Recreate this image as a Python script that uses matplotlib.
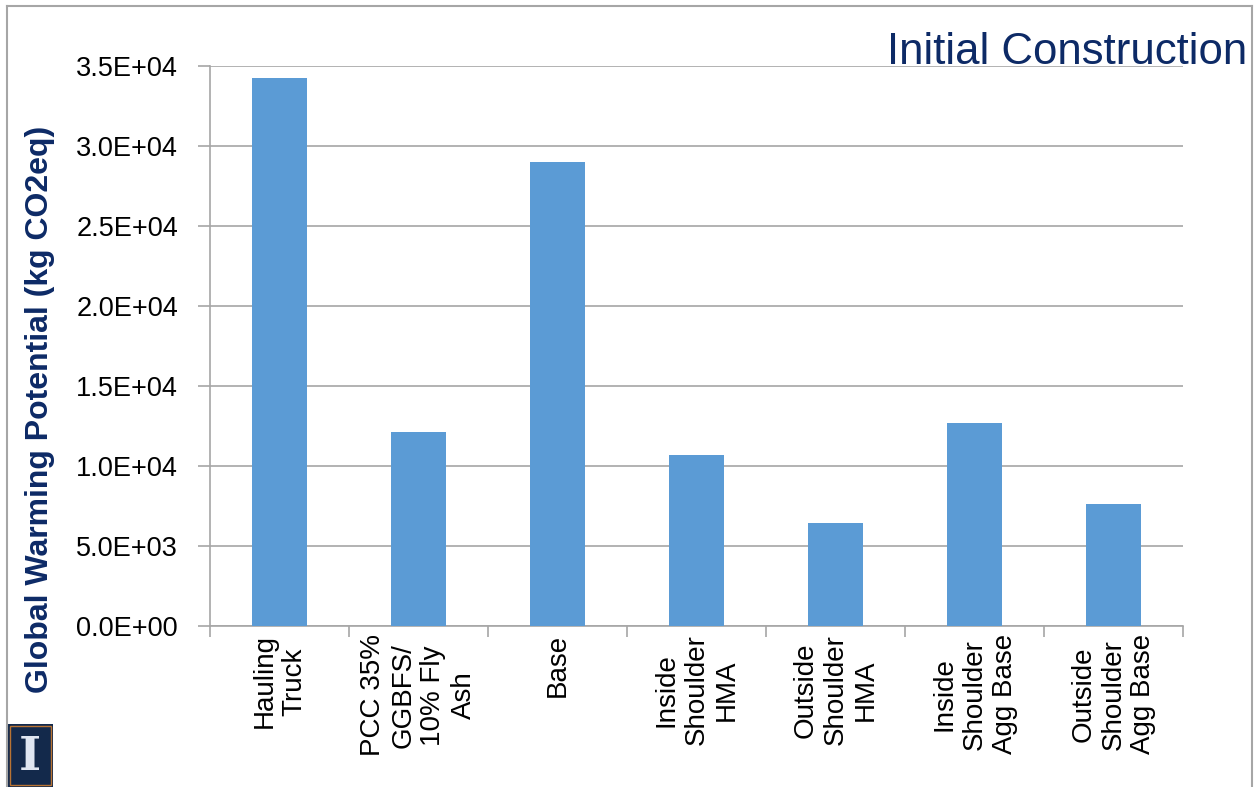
import matplotlib.pyplot as plt
from matplotlib.patches import Rectangle
from matplotlib.lines import Line2D
import numpy as np

categories = [
    "Hauling\nTruck",
    "PCC 35%\nGGBFS/\n10% Fly\nAsh",
    "Base",
    "Inside\nShoulder\nHMA",
    "Outside\nShoulder\nHMA",
    "Inside\nShoulder\nAgg Base",
    "Outside\nShoulder\nAgg Base",
]
gwp = [34250, 12100, 29000, 10700, 6450, 12700, 7620]

NAVY = "#0d2a66"
BAR = "#5b9bd5"
GRID = "#a6a6a6"
sans = ["Liberation Sans", "DejaVu Sans"]

fig = plt.figure(figsize=(12.58, 7.87), dpi=100)
ax = fig.add_axes([210 / 1258, 1 - 626 / 787, 973 / 1258, 560 / 787])

x = np.arange(len(categories))
ax.bar(x, gwp, width=0.4, color=BAR, zorder=3)

ax.set_xlim(-0.5, len(categories) - 0.5)
ax.set_ylim(0, 35000)
yt = np.arange(0, 35001, 5000)
ax.set_yticks(yt)
ax.set_yticklabels([f"{v:.1E}" for v in yt], family=sans, fontsize=19.5)
ax.yaxis.grid(True, color=GRID, linewidth=1.2, zorder=0)

# category boundaries get the tick marks, labels sit in the middle
ax.set_xticks(np.arange(-0.5, len(categories)))
ax.set_xticklabels([])
ax.set_xticks(x, minor=True)
ax.set_xticklabels(categories, minor=True, rotation=90, fontsize=20, family=sans,
                   va="top", ha="center", multialignment="center")
ax.tick_params(axis="x", which="major", length=8, color=GRID, width=1.2)
ax.tick_params(axis="x", which="minor", length=0, pad=6)
ax.tick_params(axis="y", length=9, color=GRID, width=1.2, pad=14)

for s in ["top", "right"]:
    ax.spines[s].set_visible(False)
for s in ["left", "bottom"]:
    ax.spines[s].set_color(GRID)
    ax.spines[s].set_linewidth(1.2)

ax.set_ylabel("Global Warming Potential (kg CO2eq)", fontsize=23, fontweight="bold",
              color=NAVY, family=sans)
ax.yaxis.set_label_coords(-155 / 973, 0.3875)

fig.text(1247 / 1258, 1 - 52 / 787, "Initial Construction", ha="right", va="center",
         fontsize=31.5, color=NAVY, family=sans)

# slide frame
frame = dict(color=GRID, linewidth=1.5, transform=fig.transFigure)
fig.add_artist(Line2D([7 / 1258, 1252 / 1258], [1 - 6 / 787, 1 - 6 / 787], **frame))
fig.add_artist(Line2D([7 / 1258, 7 / 1258], [0, 1 - 6 / 787], **frame))
fig.add_artist(Line2D([1252 / 1258, 1252 / 1258], [0, 1 - 6 / 787], **frame))

# university block-I badge
fig.add_artist(Rectangle((8 / 1258, 0), 45 / 1258, 63 / 787, facecolor="#13294b",
                         edgecolor="none", transform=fig.transFigure))
fig.add_artist(Rectangle((10 / 1258, 2 / 787), 41 / 1258, 59 / 787, facecolor="none",
                         edgecolor="#b87333", linewidth=1, transform=fig.transFigure))
fig.text(30 / 1258, 30 / 787, "I", ha="center", va="center", fontsize=34,
         color="#dfe6f2", family="DejaVu Serif", fontweight="bold")

fig.savefig("out.png", dpi=100)
